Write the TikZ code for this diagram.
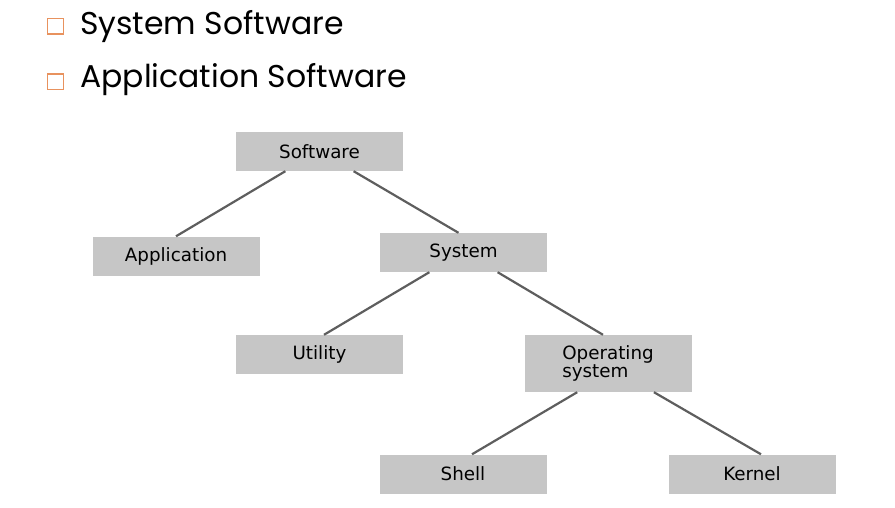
\documentclass[tikz,border=0pt]{standalone}
\usepackage{fontspec}
\setmainfont{DejaVu Sans}
\newfontfamily\bulletfont{Poppins}
\usepackage{xcolor}
\usepackage{tikz}
\definecolor{boxgray}{HTML}{C6C6C6}
\definecolor{linkgray}{HTML}{5E5E5E}
\definecolor{bulletorange}{HTML}{E8925E}
\tikzset{
  box/.style = {fill = boxgray, minimum width = 167pt, minimum height = 39pt, inner sep = 0pt, font = \fontsize{18.3}{16}\selectfont},
  link/.style = {draw = linkgray, line width = 2.2pt},
  bullet/.style = {draw = bulletorange, line width = 1.5pt, minimum width = 16pt, minimum height = 15.5pt, inner sep = 0pt},
  item/.style = {anchor = base west, inner sep = 0pt, font = \bulletfont\fontsize{31.5}{33}\selectfont}
}

\begin{document}
\begin{tikzpicture}[x = 1pt, y = -1pt]
    \useasboundingbox (0,0) rectangle (895,508);
    % bullet list
    \node[bullet](bulletA) at (55.5,26.3) {};
    \node[bullet](bulletB) at (55.5,81.8) {};
    \node[item](itemA) at (80,35) {System Software};
    \node[item](itemB) at (80,88) {Application Software};

    % tree
    \node[box](software) at (319.5,151.5) {Software};
    \node[box](application) at (176,256) {Application};
    \node[box](system) at (463.5,252.5) {System};
    \node[box](utility) at (319.5,354.5) {Utility};
    \node[box,minimum height = 57pt,align = left](os) at (608,363.5) {Operating\\system};
    \node[box](shell) at (463,474) {Shell};
    \node[box](kernel) at (752,474) {Kernel};

    \draw [link] (software.-150) -- (application.north);
    \draw [link] (software.-30) -- ([xshift = -5pt]system.north);
    \draw [link] (system.-150) -- ([xshift = 4.5pt]utility.north);
    \draw [link] (system.-30) -- ([xshift = -5pt]os.north);
    \draw [link] (os.-137) -- ([xshift = 9pt]shell.north);
    \draw [link] (os.-32) -- ([xshift = 9pt]kernel.north);
\end{tikzpicture}
\end{document}
